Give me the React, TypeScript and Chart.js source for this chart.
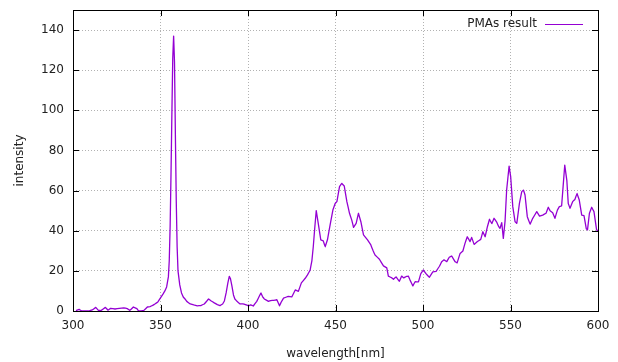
import React, { useEffect, useRef } from "react";
import { Chart, registerables } from "chart.js";

Chart.register(...registerables);

const seriesLabel = "PMAs result";
const xTitle = "wavelength[nm]";
const yTitle = "intensity";

const wavelengths: number[] = [
  302, 303.5, 305, 307, 309, 311, 313, 314.5, 316, 318.5, 320, 321.5, 324, 326.5, 329, 331, 332.5, 334.5, 336.5, 337.5,
  339, 340.5, 342.5, 344, 345.5, 347, 348.5, 350, 351.5, 352.5, 353.5, 354.5, 355, 355.5, 356, 356.5, 357, 357.5, 358, 358.5,
  359, 359.5, 360, 361, 362, 363, 364, 365, 367, 369, 371, 373, 375, 376.5, 377.5, 379, 380.5, 382.5, 384, 385.5,
  386.5, 387.5, 388.5, 389.3, 390, 390.8, 391.7, 392.5, 393.7, 395.5, 397, 398.5, 400.3, 401.5, 403, 405, 406.5, 407.4, 408.3, 409.3,
  411.7, 413, 414.6, 416.5, 418, 419, 420.3, 423, 425, 427, 428.8, 430.5, 432.7, 434, 435.5, 436.5, 437.3, 438.2, 439, 440.3,
  441.6, 443, 444.1, 445.4, 446.9, 448.5, 449.8, 450.8, 451.5, 452.3, 453.6, 455, 456.5, 458, 459.3, 460.3, 461.8, 463.1, 464.5, 466,
  468.3, 470.2, 471.5, 472.6, 475.1, 477.4, 479.3, 480.2, 482.2, 483.1, 484.6, 486.5, 487.8, 489, 490.5, 491.6, 492.6, 494.2, 495.5, 497.4,
  498.7, 500.2, 501.7, 503.6, 505.6, 507.5, 509.4, 510.7, 512, 513.6, 515, 516.4, 518.3, 519.5, 521.2, 522.8, 524, 525.3, 526.9, 527.8,
  529.2, 531.1, 533, 534.2, 535.5, 536.8, 538, 539.3, 540.6, 542.1, 543.3, 544, 545, 545.9, 546.9, 547.8, 549.2, 550.1, 551.3, 552.6,
  553.6, 555.1, 556.4, 557.4, 558.3, 559.6, 561.2, 562.7, 565, 566.6, 568.4, 570.3, 571.6, 572.6, 574.1, 575.4, 576.8, 577.9, 579.2, 580.2,
  581, 582.2, 583, 584, 585.5, 586.8, 588, 589.3, 590.7, 592, 593.3, 594, 595.1, 596.4, 597.7, 599.2, 600,
];

const intensities: number[] = [
  0.3, 0.8, 0, 0, 0, 0.5, 1.8, 0.3, 0.2, 1.8, 0.4, 1.3, 1.0, 1.3, 1.6, 1.2, 0.3, 2.0, 1.2, 0,
  0, 0.3, 2.0, 2.2, 2.8, 3.6, 4.5, 6.5, 8.5, 10, 12, 17, 25, 42, 68, 98, 126, 137, 124, 88,
  55, 32, 20, 13, 9, 7, 6, 4.8, 3.5, 3, 2.6, 2.7, 3.5, 5, 6, 5, 4.2, 3.2, 2.7, 3.5,
  5, 9, 14, 17.3, 16, 12.5, 8, 6, 4.8, 3.5, 3.6, 3.2, 2.6, 3.0, 2.5, 4.8, 7.5, 9, 7.2, 6,
  4.8, 5.2, 5.3, 5.6, 2.6, 4.5, 6.4, 7.3, 7, 10.5, 9.8, 14, 16.3, 18, 20.4, 25, 32, 42, 50, 42.8,
  35.4, 35, 32, 35.5, 42.8, 50.3, 53.6, 54.5, 58, 62, 63.6, 62.3, 54.5, 48.7, 45.3, 41.7, 43.7, 48.7, 44.5, 37.9,
  35.4, 32.9, 30, 27.9, 25.8, 22.5, 21.5, 17.4, 16.5, 15.8, 17, 14.8, 17.4, 16.5, 17.2, 17.4, 15.4, 12.5, 14.6, 14.5,
  18.5, 20.5, 18.6, 16.8, 19.5, 19.8, 22.3, 24.6, 25.5, 24.6, 26.8, 27.4, 24.6, 24, 28.7, 29.9, 33.7, 37, 34.6, 36.7,
  33.2, 34.6, 35.7, 39.5, 37, 42, 45.7, 43.5, 46.2, 44.3, 42, 41.2, 44, 36.2, 44.9, 60.3, 72.2, 67, 52, 44.5,
  43.7, 53.6, 59.4, 60.3, 57.8, 47, 43.3, 46.2, 49.5, 47.3, 47.8, 48.7, 51.7, 50, 49, 46.2, 50.3, 52, 52.3, 63.6,
  72.7, 65, 53.6, 51.2, 54.5, 55.6, 58.6, 55.3, 47.8, 47.5, 41, 40.4, 48.7, 51.7, 49.5, 40.4, 40,
];

const xMin = 300;
const xMax = 600;
const xStep = 50;
const yMin = 0;
const yMax = 150;
const yStep = 20;

const FONT = "'DejaVu Sans', sans-serif";
const LINE_COLOR = "#9400d3";

const framePlugin = {
  id: "gnuplotFrame",
  afterDatasetsDraw(chart: any) {
    const { ctx, chartArea } = chart;
    const { left, right, top, bottom } = chartArea;
    const xs = chart.scales.x;
    const ys = chart.scales.y;
    const tl = 6;
    ctx.save();
    ctx.strokeStyle = "#000";
    ctx.lineWidth = 1;
    ctx.beginPath();
    xs.ticks.forEach((t: any) => {
      const px = Math.round(xs.getPixelForValue(t.value)) + 0.5;
      ctx.moveTo(px, bottom);
      ctx.lineTo(px, bottom - tl);
      ctx.moveTo(px, top);
      ctx.lineTo(px, top + tl);
    });
    ys.ticks.forEach((t: any) => {
      const py = Math.round(ys.getPixelForValue(t.value)) + 0.5;
      ctx.moveTo(left, py);
      ctx.lineTo(left + tl, py);
      ctx.moveTo(right, py);
      ctx.lineTo(right - tl, py);
    });
    ctx.stroke();
    ctx.strokeRect(Math.round(left) + 0.5, Math.round(top) + 0.5, Math.round(right - left), Math.round(bottom - top));

    // legend (gnuplot style: text then sample line)
    const ds = chart.data.datasets[0];
    ctx.font = "12px " + FONT;
    ctx.fillStyle = "#222";
    ctx.textAlign = "right";
    ctx.textBaseline = "middle";
    ctx.fillText(ds.label, 537, 24);
    ctx.strokeStyle = ds.borderColor;
    ctx.lineWidth = 1.2;
    ctx.beginPath();
    ctx.moveTo(545, 24.5);
    ctx.lineTo(583, 24.5);
    ctx.stroke();
    ctx.restore();
  },
};

export default function App() {
  const ref = useRef<HTMLCanvasElement | null>(null);

  useEffect(() => {
    if (!ref.current) return;
    const points = wavelengths.map((w, i) => ({ x: w, y: intensities[i] }));
    const gridColor = (edgeValues: number[]) => (c: any) =>
      c.tick && edgeValues.includes(c.tick.value) ? "rgba(0,0,0,0)" : "rgba(0,0,0,0.3)";
    const chart = new Chart(ref.current, {
      type: "line",
      data: {
        datasets: [
          {
            label: seriesLabel,
            data: points,
            borderColor: LINE_COLOR,
            backgroundColor: LINE_COLOR,
            borderWidth: 1.3,
            borderJoinStyle: "round",
            borderCapStyle: "round",
            pointRadius: 0,
            tension: 0.0001,
            fill: false,
          },
        ],
      },
      options: {
        animation: false,
        responsive: false,
        devicePixelRatio: 1,
        layout: { padding: { top: 10, right: 20, left: 0, bottom: 0 } },
        plugins: {
          legend: { display: false },
          tooltip: { enabled: false },
        },
        scales: {
          x: {
            type: "linear",
            min: xMin,
            max: xMax,
            afterFit: (s: any) => {
              s.height = 51;
              s.paddingLeft = 0;
              s.paddingRight = 0;
              s.paddingTop = 0;
              s.paddingBottom = 0;
            },
            ticks: {
              stepSize: xStep,
              padding: 8,
              color: "#222",
              font: { family: FONT, size: 12 },
              maxRotation: 0,
            },
            grid: {
              drawTicks: false,
              color: gridColor([xMin, xMax]),
              lineWidth: 1,
            },
            border: { display: false, dash: [1, 2] },
            title: {
              display: true,
              text: xTitle,
              color: "#222",
              font: { family: FONT, size: 12 },
              padding: { top: 0, bottom: 1 },
            },
          },
          y: {
            type: "linear",
            min: yMin,
            max: yMax,
            afterFit: (s: any) => {
              s.width = 73;
              s.paddingLeft = 0;
              s.paddingRight = 0;
              s.paddingTop = 0;
              s.paddingBottom = 0;
            },
            ticks: {
              stepSize: yStep,
              includeBounds: false,
              padding: 9,
              color: "#222",
              font: { family: FONT, size: 12 },
            },
            grid: {
              drawTicks: false,
              color: gridColor([yMin]),
              lineWidth: 1,
            },
            border: { display: false, dash: [1, 2] },
            title: {
              display: true,
              text: yTitle,
              color: "#222",
              font: { family: FONT, size: 12 },
              padding: { top: 13, bottom: 0 },
            },
          },
        },
      },
      plugins: [framePlugin],
    });
    return () => chart.destroy();
  }, []);

  return (
    <div style={{ position: "fixed", left: 0, top: 0, width: 618, height: 362, background: "#fff" }}>
      <canvas ref={ref} width={618} height={362} style={{ display: "block" }} />
    </div>
  );
}
